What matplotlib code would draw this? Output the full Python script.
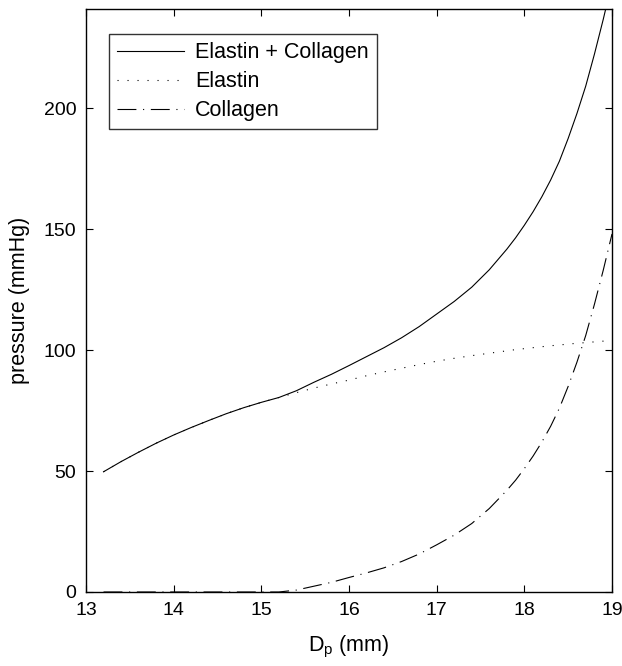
import numpy as np
import matplotlib.pyplot as plt

plt.rcParams['font.family'] = ['Liberation Sans', 'DejaVu Sans']

# diameter samples (mm)
dp = [13.2, 13.4, 13.6, 13.8, 14.0, 14.2, 14.4, 14.6, 14.8, 15.0,
      15.2, 15.4, 15.6, 15.8, 16.0, 16.2, 16.4, 16.6, 16.8, 17.0,
      17.2, 17.4, 17.6, 17.8, 17.9, 18.0, 18.1, 18.2, 18.3, 18.4,
      18.5, 18.6, 18.7, 18.8, 18.9, 19.0]

# pressures (mmHg)
elastin = [49.7, 53.9, 57.8, 61.5, 64.9, 68.0, 70.9, 73.7, 76.2, 78.4,
           80.4, 82.4, 84.3, 86.0, 87.6, 89.4, 91.0, 92.5, 94.0, 95.4,
           96.6, 97.7, 98.7, 99.7, 100.2, 100.6, 101.0, 101.4, 101.8, 102.1,
           102.5, 102.8, 103.1, 103.4, 103.7, 104.0]
collagen = [0, 0, 0, 0, 0, 0, 0, 0, 0, 0,
            0, 0.8, 2.4, 4.0, 6.0, 7.9, 10.0, 12.6, 15.7, 19.5,
            23.5, 28.3, 34.5, 42.0, 46.2, 51.0, 56.2, 62.0, 68.5, 76.0,
            85.0, 95.0, 106.0, 119.0, 133.0, 148.0]
total = [49.7, 53.9, 57.8, 61.5, 64.9, 68.0, 70.9, 73.7, 76.2, 78.4,
         80.4, 83.2, 86.7, 90.0, 93.6, 97.3, 101.0, 105.1, 109.7, 114.9,
         120.1, 126.0, 133.2, 141.7, 146.4, 151.6, 157.2, 163.4, 170.3, 178.1,
         187.5, 197.8, 209.1, 222.4, 236.7, 252.0]

fig = plt.figure(figsize=(6.22, 6.66), dpi=100)
ax = fig.add_axes([86/622, 74/666, 526/622, 583/666])

ax.plot(dp, total, color='black', lw=0.8, label='Elastin + Collagen')
ax.plot(dp, elastin, color='black', lw=0.8, linestyle=(0, (1, 8)), label='Elastin')
ax.plot(dp, collagen, color='black', lw=0.8, linestyle=(0, (17, 6, 1, 6)), label='Collagen')

ax.set_xlim(13, 19)
ax.set_ylim(0, 241)
ax.set_xticks([13, 14, 15, 16, 17, 18, 19])
ax.set_yticks([0, 50, 100, 150, 200])
ax.tick_params(direction='in', top=True, right=True, length=5, labelsize=14, pad=7)
for s in ax.spines.values():
    s.set_linewidth(1.0)

ax.set_xlabel('D$_\\mathregular{p}$ (mm)', fontsize=15.5, labelpad=11)
ax.set_ylabel('pressure (mmHg)', fontsize=15.5, labelpad=10)

leg = ax.legend(loc='upper left', bbox_to_anchor=(0.044, 0.957), fontsize=15.5,
                fancybox=False, edgecolor='black', handlelength=3.1,
                borderaxespad=0, labelspacing=0.37, handletextpad=0.5,
                borderpad=0.38)
leg.get_frame().set_linewidth(1.0)

plt.savefig('out.png', dpi=100)
